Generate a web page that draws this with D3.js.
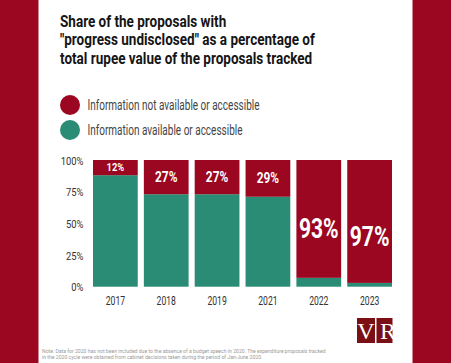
<!DOCTYPE html>
<html><head><meta charset="utf-8">
<script src="https://cdn.jsdelivr.net/npm/d3@7"></script>
<style>html,body{margin:0;padding:0;background:#fff;}svg{display:block;}</style>
</head><body>
<svg id="c" width="451" height="363"></svg>
<script>
const years = ["2017", "2018", "2019", "2021", "2022", "2023"];
const notAvailable = [12, 27, 27, 29, 93, 97];
const available = [88, 73, 73, 71, 7, 3];
const yTicks = [0, 25, 50, 75, 100];
const titleLines = ["Share of the proposals with", "\"progress undisclosed\" as a percentage of", "total rupee value of the proposals tracked"];
const legendLabels = ["Information not available or accessible", "Information available or accessible"];
const noteLines = ["Note: Data for 2020 has not been included due to the absence of a budget speech in 2020. The expenditure proposals tracked", "in the 2020 cycle were obtained from cabinet decisions taken during the period of Jan-June 2020."];

const RED = "#9b0620", TEAL = "#2a8c74";
const svg = d3.select("#c");
const FONT = "Roboto, 'Noto Sans', sans-serif";

svg.append("rect").attr("width", 451).attr("height", 363).attr("fill", RED);
svg.append("rect").attr("x", 38.5).attr("y", 0).attr("width", 374).attr("height", 363).attr("fill", "#fff");

function txt(g, s, x, y, size, sx, opts = {}) {
  return g.append("text")
    .attr("transform", `translate(${x},${y}) scale(${sx},1)`)
    .attr("font-family", FONT)
    .attr("font-size", size)
    .attr("font-weight", opts.weight || 400)
    .attr("fill", opts.fill || "#333")
    .attr("text-anchor", opts.anchor || "start")
    .attr("dominant-baseline", opts.baseline || "auto")
    .text(s);
}

// title
titleLines.forEach((l, i) => txt(svg, l, 60, 27 + i * 18.3, 16.5, 0.82, {weight: 700, fill: "#151515"}));

// legend
const legColors = [RED, TEAL];
legendLabels.forEach((l, i) => {
  const cy = 105 + i * 25;
  svg.append("circle").attr("cx", 70).attr("cy", cy).attr("r", 10).attr("fill", legColors[i]);
  txt(svg, l, 87.5, cy + 5, 14, 0.715, {fill: "#444"});
});

const x = d3.scaleBand().domain(years).range([93, 392]).paddingInner(0.12).paddingOuter(0);
const y = d3.scaleLinear().domain([0, 100]).range([286.7, 160]);

const data = years.map((yr, i) => ({yr, na: notAvailable[i], av: available[i]}));

const bars = svg.append("g");
bars.selectAll("rect.av").data(data).join("rect").attr("class", "av")
  .attr("x", d => x(d.yr)).attr("width", x.bandwidth())
  .attr("y", d => y(d.av)).attr("height", d => y(0) - y(d.av))
  .attr("fill", TEAL);
bars.selectAll("rect.na").data(data).join("rect").attr("class", "na")
  .attr("x", d => x(d.yr)).attr("width", x.bandwidth())
  .attr("y", y(100)).attr("height", d => y(d.av) - y(100))
  .attr("fill", RED);

data.forEach(d => {
  const big = d.na > 50;
  const size = big ? 27 : (d.na < 20 ? 11 : 14);
  const mid = (y(100) + y(d.av)) / 2 + (big ? (d.na - 85) * 1.3 : 0);
  txt(svg, d.na + "%", x(d.yr) + x.bandwidth() / 2, mid, size, big ? 0.78 : 0.85,
      {weight: 700, fill: "#fff", anchor: "middle", baseline: "central"});
});

// y axis
const yAxis = d3.axisLeft(y).tickValues(yTicks).tickSize(0).tickPadding(0).tickFormat(d => d + "%");
const ya = svg.append("g").attr("transform", "translate(83.5,0)").call(yAxis);
ya.select(".domain").remove();
ya.selectAll("text").attr("font-family", FONT).attr("font-size", 11.5).attr("fill", "#333")
  .attr("x", 0).attr("dy", "0.36em").attr("transform", "scale(0.82,1)");

// x axis
const xAxis = d3.axisBottom(x).tickSize(0).tickPadding(0);
const xa = svg.append("g").attr("transform", "translate(0,296)").call(xAxis);
xa.select(".domain").remove();
xa.selectAll("text").attr("font-family", FONT).attr("font-size", 13).attr("fill", "#333")
  .attr("dy", "0.72em").attr("transform", "scale(0.66,1)");

// logo
const logo = svg.append("g");
logo.append("rect").attr("x", 357).attr("y", 318).attr("width", 18).attr("height", 25).attr("fill", "#7a1016");
logo.append("rect").attr("x", 376.5).attr("y", 318).attr("width", 16).attr("height", 25).attr("fill", "#7a1016");
logo.append("text").attr("x", 366).attr("y", 339).attr("text-anchor", "middle").attr("font-family", "'Liberation Serif', serif").attr("font-size", 24).attr("fill", "#fff").text("V");
logo.append("text").attr("x", 380).attr("y", 339).attr("font-family", "'Liberation Serif', serif").attr("font-size", 24).attr("fill", "#fff").text("R");

// note
noteLines.forEach((l, i) => txt(svg, l, 42, 353 + i * 5.8, 6.2, 0.825, {fill: "#9a9a9a"}));
</script>
</body></html>
